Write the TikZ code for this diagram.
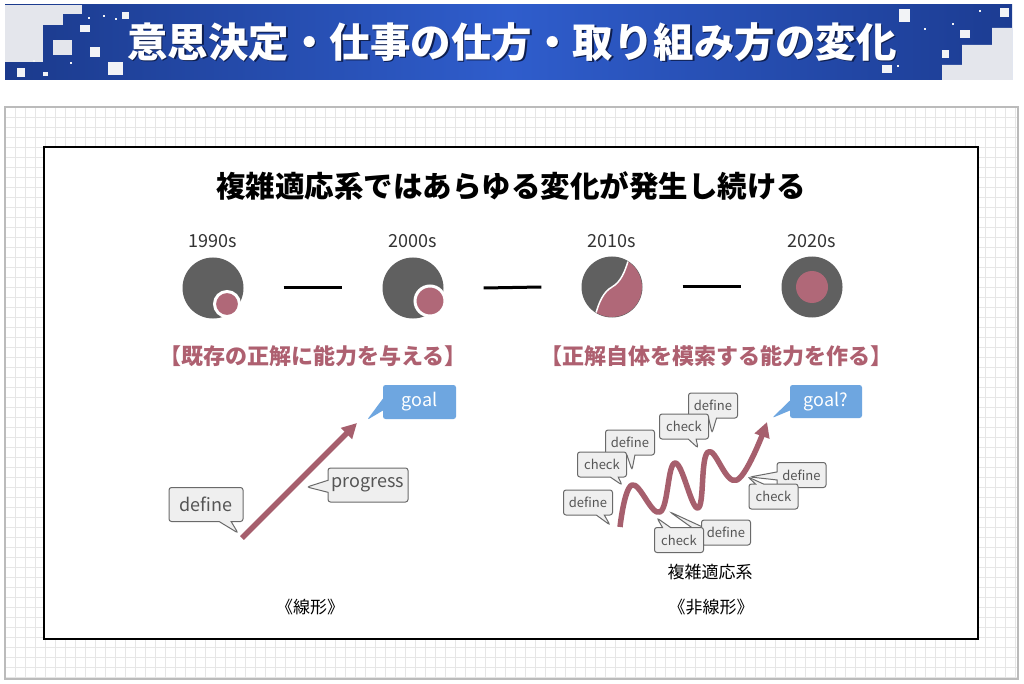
\documentclass[tikz,border=0pt]{standalone}
\usepackage{fontspec}
\setmainfont{Noto Sans CJK JP}
\usetikzlibrary{shapes.callouts,arrows.meta,calc}
\definecolor{bnL}{HTML}{1B3A8C}
\definecolor{bnM}{HTML}{2F5DCC}
\definecolor{bnR}{HTML}{1C3C92}
\definecolor{deco}{HTML}{E4E6EC}
\definecolor{decow}{HTML}{F2F3F6}
\definecolor{gridc}{HTML}{E6E6E6}
\definecolor{panelb}{HTML}{BBBBBB}
\definecolor{cgray}{HTML}{606060}
\definecolor{cpink}{HTML}{B06878}
\definecolor{ptext}{HTML}{AE6070}
\definecolor{arrowc}{HTML}{A65F6D}
\definecolor{cfill}{HTML}{EFEFEF}
\definecolor{cline}{HTML}{6A6A6A}
\definecolor{ctext}{HTML}{555555}
\definecolor{gfill}{HTML}{6EA6E0}
\definecolor{ytext}{HTML}{333333}
\definecolor{shadowc}{HTML}{0E1E4E}
\newcommand\myfs[1]{\fontsize{#1}{#1}\selectfont}
\tikzset{
  bigdot/.style={circle, fill=cgray, minimum size=61, inner sep=0pt},
  innerdot/.style={circle, fill=cpink, inner sep=0pt},
  yearlabel/.style={text=ytext, font=\myfs{18}},
  tline/.style={line width=3pt, black},
  seclabel/.style={text=ptext, font=\bfseries\myfs{22}},
  callbase/.style={rectangle callout, rounded corners=2.5pt, inner sep=0pt, line width=1pt},
  bigcall/.style={callbase, fill=cfill, draw=cline, text=ctext, font=\myfs{18}, minimum height=34, callout pointer width=12},
  smallcall/.style={callbase, fill=cfill, draw=cline, text=ctext, font=\myfs{13}, minimum width=49, minimum height=25, callout pointer width=8},
  goalcall/.style={callbase, fill=gfill, draw=none, text=white, font=\myfs{18}, minimum height=34, callout pointer width=12},
  progline/.style={line width=5.5pt, arrowc, -{Triangle[length=15,width=15]}},
}
\begin{document}
\begin{tikzpicture}[x=1pt,y=-1pt]
\useasboundingbox (0,0) rectangle (1024,684);
\fill[white] (0,0) rectangle (1024,684);
% ---------- banner ----------
\shade[left color=bnL, right color=bnR, middle color=bnM] (5,5) rectangle (1012,80);
\fill[deco] (5,5) rectangle (82,14);
\fill[deco] (5,14) rectangle (63,25);
\fill[deco] (5,25) rectangle (43,62);
\fill[deco] (53,40) rectangle (72,55);
\foreach \a/\b/\c/\d in {80/25/90/32, 90/47/100/57, 108/62/123/75, 122/12/129/19, 17/68/25/77, 43/72/48/76,
  115/18/117/20, 103/15/105/17, 88/17/90/19, 70/62/72/64, 33/60/35/62}
  \fill[decow] (\a,\b) rectangle (\c,\d);
\fill[deco] (942,80) -- (942,65) -- (962,65) -- (962,45) -- (992,45) -- (992,28) -- (1012,28) -- (1012,80) -- cycle;
\foreach \a/\b/\c/\d in {899/9/910/22, 1000/8/1009/17, 942/50/949/58, 882/65/892/73, 960/30/970/38,
  924/28/926/30, 952/23/954/25, 979/10/981/12, 897/65/899/67}
  \fill[decow] (\a,\b) rectangle (\c,\d);
\node[text=shadowc, font=\bfseries\myfs{40.5}] (titleshadow) at (513.5,43.5) {意思決定・仕事の仕方・取り組み方の変化};
\node[text=white, font=\bfseries\myfs{40.5}] (title) at (512,42) {意思決定・仕事の仕方・取り組み方の変化};
% ---------- grid panel ----------
\fill[white] (5,107) rectangle (1018,679);
\foreach \x in {15,25,...,1015} \draw[gridc, line width=0.8pt] (\x,107) -- (\x,679);
\foreach \y in {117,127,...,677} \draw[gridc, line width=0.8pt] (5,\y) -- (1018,\y);
\draw[panelb, line width=2pt] (5,107) rectangle (1018,679);
\draw[black, line width=1.2pt, fill=white] (44,147) rectangle (978,639);
% ---------- heading ----------
\node[font=\bfseries\myfs{29.5}, text=black] (head) at (511,186) {複雑適応系ではあらゆる変化が発生し続ける};
% ---------- timeline ----------
\node[yearlabel] (y1) at (213,241) {1990s};
\node[yearlabel] (y2) at (413,241) {2000s};
\node[yearlabel] (y3) at (612,241) {2010s};
\node[yearlabel] (y4) at (812,241) {2020s};
\node[bigdot] (c1) at (213,288) {};
\node[bigdot] (c2) at (413,288) {};
\node[bigdot] (c3) at (612,287) {};
\node[bigdot] (c4) at (812,287) {};
\node[innerdot, draw=white, line width=3pt, minimum size=25] (p1) at (227,304) {};
\node[innerdot, draw=white, line width=3pt, minimum size=30] (p2) at (430,301) {};
\begin{scope}[shift={(c3.center)}, x=1pt, y=1pt]
\fill[cpink] (58:30) arc[start angle=58, end angle=-122, radius=30]
   .. controls (-13,-16) and (-9,-5) .. (0,0) .. controls (9,5) and (13,16) .. (58:30) -- cycle;
\draw[white, line width=1.5pt] (238:30) .. controls (-13,-16) and (-9,-5) .. (0,0)
   .. controls (9,5) and (13,16) .. (58:30);
\end{scope}
\node[innerdot, minimum size=32] (p4) at (c4.center) {};
\draw[tline] ($(c1.east)+(40,0)$) -- ($(c2.west)+(-40,0)$);
\draw[tline] ($(c2.east)+(40,0)$) -- ($(c3.west)+(-40,0)$);
\draw[tline] ($(c3.east)+(40,0)$) -- ($(c4.west)+(-40,0)$);
% ---------- section labels ----------
\node[seclabel] (s1) at (313,356) {【既存の正解に能力を与える】};
\node[seclabel] (s2) at (716,356) {【正解自体を模索する能力を作る】};
% ---------- linear ----------
\coordinate (la0) at (242,538);
\coordinate (la1) at (357,423);
\draw[progline] (la0) -- (la1);
\coordinate (ldtip) at (238,533);
\coordinate (lgtip) at (367,420);
\coordinate (lptip) at (307,487);
\node[bigcall, minimum width=74, callout absolute pointer={(ldtip)}] (ld) at (206,504.5) {define};
\node[goalcall, minimum width=73, callout absolute pointer={(lgtip)}] (lg) at (419.5,402) {goal};
\node[bigcall, minimum width=80, callout absolute pointer={(lptip)}] (lp) at (368,485) {progress};
\node[font=\myfs{17}] (lin) at (310,607) {《線形》};
% ---------- nonlinear ----------
\coordinate (w0) at (620,527);
\coordinate (w1) at (632,485);
\coordinate (w2) at (660,512);
\coordinate (w3) at (675,463);
\coordinate (w4) at (698,508);
\coordinate (w5) at (708,452);
\coordinate (w6) at (737,480);
\coordinate (w7) at (767,422);
\draw[progline, line join=round] plot[smooth, tension=0.7] coordinates {(w0) (w1) (w2) (w3) (w4) (w5) (w6) (w7)};
\coordinate (t1) at (712,433);
\coordinate (t2) at (698,448);
\coordinate (t3) at (632,470);
\coordinate (t4) at (622,485);
\coordinate (t5) at (610,525);
\coordinate (t6) at (670,512);
\coordinate (t7) at (657,518);
\coordinate (t8) at (750,477);
\coordinate (t9) at (748,477);
\coordinate (t10) at (772,418);
\node[smallcall, callout absolute pointer={(t1)}] (n1) at (713,405.5) {define};
\node[smallcall, callout absolute pointer={(t2)}] (n2) at (684,426.5) {check};
\node[smallcall, callout absolute pointer={(t3)}] (n3) at (630,442.5) {define};
\node[smallcall, callout absolute pointer={(t4)}] (n4) at (602,464.5) {check};
\node[smallcall, callout absolute pointer={(t5)}] (n5) at (588,502.5) {define};
\node[smallcall, callout absolute pointer={(t6)}] (n6) at (726,532.5) {define};
\node[smallcall, callout absolute pointer={(t7)}] (n7) at (679,540) {check};
\node[smallcall, callout absolute pointer={(t8)}] (n8) at (801.5,475) {define};
\node[smallcall, callout absolute pointer={(t9)}] (n9) at (773.5,496.5) {check};
\node[goalcall, minimum width=72, minimum height=33, callout pointer width=10, callout absolute pointer={(t10)}] (ng) at (826,401.5) {goal?};
\node[font=\myfs{17}] (cas) at (710,572) {複雑適応系};
\node[font=\myfs{17}] (nonlin) at (711,607) {《非線形》};
\end{tikzpicture}
\end{document}
